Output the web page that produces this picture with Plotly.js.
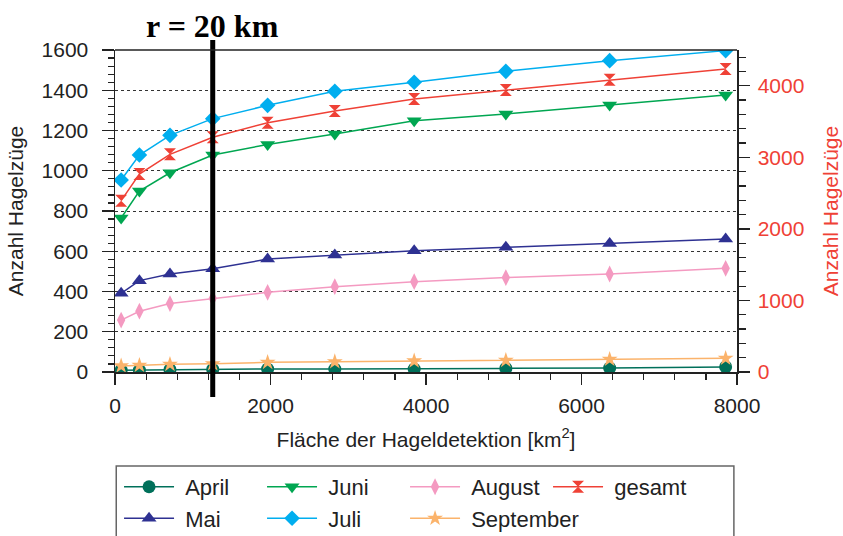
<!DOCTYPE html>
<html><head><meta charset="utf-8">
<script src="https://cdn.plot.ly/plotly-3.0.1.min.js"></script>
<style>html,body{margin:0;padding:0;background:#fff}</style>
</head><body>
<div id="chart" style="width:843px;height:536px"></div>
<script>
const flaeche = [79, 314, 707, 1257, 1963, 2827, 3848, 5027, 6362, 7854];
const april = [9, 10, 12, 13, 15, 15, 15, 18, 20, 25];
const mai = [391, 454, 487, 513, 561, 581, 603, 620, 639, 661];
const juni = [765, 899, 990, 1078, 1131, 1183, 1249, 1282, 1327, 1376];
const juli = [954, 1078, 1176, 1259, 1325, 1395, 1440, 1494, 1547, 1597];
const august = [258, 302, 340, 366, 396, 424, 449, 469, 487, 515];
const september = [30, 33, 38, 41, 48, 51, 55, 58, 63, 68];
const gesamt = [2394, 2767, 3042, 3280, 3484, 3647, 3815, 3941, 4085, 4234];
const markerR = 1257; // area of r = 20 km circle

const FONT = 'Liberation Sans, Arial, sans-serif';
const TXT = '#222';
const GAP = '\u00a0';
function tr(name, y, color, symbol, size, axis, legend) {
  return {x: flaeche, y: y, name: GAP + name, type: 'scatter', mode: 'lines+markers',
    yaxis: axis, legend: legend, line: {color: color, width: 1.5},
    marker: {color: color, symbol: symbol, size: size}};
}
const data = [
  tr('April', april, '#00705a', 'circle', 13, 'y', 'legend'),
  tr('Juni', juni, '#00a651', 'triangle-down', 13, 'y', 'legend'),
  tr('August', august, '#f49ac1', 'diamond-tall', 12, 'y', 'legend'),
  tr('gesamt', gesamt, '#ef4136', 'hourglass', 12, 'y2', 'legend'),
  tr('Mai', mai, '#2e3192', 'triangle-up', 13, 'y', 'legend2'),
  tr('Juli', juli, '#00aeef', 'diamond', 12, 'y', 'legend2'),
  tr('September', september, '#fbb36b', 'star', 12, 'y', 'legend3')
];
const legBase = {orientation: 'h', xanchor: 'left', yanchor: 'middle', borderwidth: 0,
  bgcolor: 'rgba(0,0,0,0)', entrywidth: 78, entrywidthmode: 'pixels', itemwidth: 50,
  font: {family: FONT, size: 22, color: TXT}, traceorder: 'normal'};
const col0 = 0.0065, colStep = 143 / 622;
const layout = {
  width: 843, height: 536,
  margin: {l: 115, r: 106, t: 50, b: 164, autoexpand: false},
  paper_bgcolor: '#fff', plot_bgcolor: '#fff',
  font: {family: FONT, size: 21, color: TXT},
  showlegend: true,
  legend: Object.assign({}, legBase, {x: col0, y: -0.357}),
  legend2: Object.assign({}, legBase, {x: col0, y: -0.455}),
  legend3: Object.assign({}, legBase, {x: col0 + 2 * colStep, y: -0.455, entrywidth: 0}),
  xaxis: {range: [0, 8000], tickvals: [0, 2000, 4000, 6000, 8000], showgrid: false, zeroline: false,
    showline: true, linecolor: TXT, linewidth: 1.5,
    ticks: 'outside', ticklen: 11, tickcolor: TXT, tickwidth: 1.3, ticklabelstandoff: 3,
    minor: {dtick: 400, ticks: 'outside', ticklen: 6, tickcolor: TXT, tickwidth: 1.2, showgrid: false},
    title: {text: 'Fläche der Hageldetektion [km<sup>2</sup>]', font: {size: 21, family: FONT, color: TXT}, standoff: 16}},
  yaxis: {range: [0, 1600], dtick: 200, showgrid: true, gridcolor: '#333', griddash: 'dot', gridwidth: 1,
    zeroline: false, showline: true, linecolor: TXT, linewidth: 1.5,
    ticks: 'outside', ticklen: 12, tickcolor: TXT, tickwidth: 1.3, ticklabelstandoff: 9,
    minor: {dtick: 40, ticks: 'outside', ticklen: 6, tickcolor: TXT, tickwidth: 1.2, showgrid: false},
    title: {text: 'Anzahl Hagelzüge', font: {size: 21, family: FONT, color: TXT}, standoff: 12}},
  yaxis2: {range: [0, 4500], dtick: 1000, overlaying: 'y', side: 'right', showgrid: false, zeroline: false,
    showline: true, linecolor: TXT, linewidth: 1.5,
    ticks: 'outside', ticklen: 11, tickcolor: TXT, tickwidth: 1.3, ticklabelstandoff: 4,
    minor: {dtick: 200, ticks: 'outside', ticklen: 7, tickcolor: TXT, tickwidth: 1.2, showgrid: false},
    tickfont: {color: '#ef4136', size: 21, family: FONT},
    title: {text: 'Anzahl Hagelzüge', font: {size: 21, family: FONT, color: '#ef4136'}, standoff: 20}},
  shapes: [
    {type: 'line', xref: 'x', yref: 'paper', x0: markerR, x1: markerR, y0: -0.078, y1: 1.031,
      line: {color: '#000', width: 5}},
    {type: 'line', xref: 'paper', yref: 'paper', x0: 0, x1: 1, y0: 1, y1: 1, line: {color: TXT, width: 1.5}},
    {type: 'rect', xref: 'paper', yref: 'paper', x0: 0.002, x1: 0.995, y0: -0.292, y1: -0.56,
      line: {color: '#666', width: 1.5}, fillcolor: 'rgba(0,0,0,0)', layer: 'below'}
  ],
  annotations: [
    {text: '<b>r = 20 km</b>', xref: 'x', yref: 'paper', x: markerR, y: 1.074, xanchor: 'center', yanchor: 'middle',
      showarrow: false, font: {family: 'Liberation Serif, serif', size: 32, color: '#000'}}
  ]
};
Plotly.newPlot('chart', data, layout, {displayModeBar: false, staticPlot: true});
</script>
</body></html>
